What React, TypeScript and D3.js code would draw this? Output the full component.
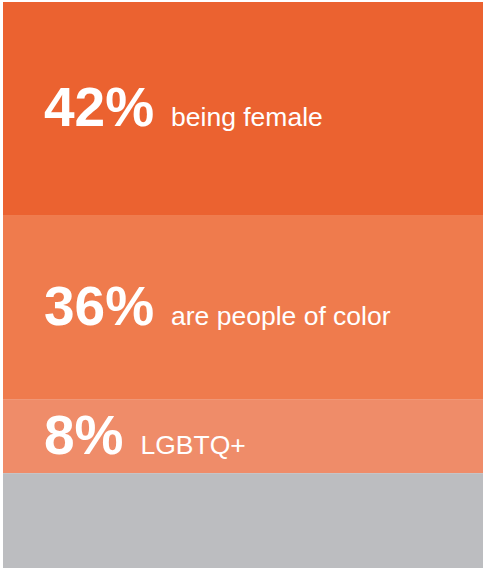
import React from "react";
import * as d3 from "d3";

// Categories and values
const percentLabels = ["42%", "36%", "8%", ""];
const captions = ["being female", "are people of color", "LGBTQ+", ""];
const percentValues = [42, 36, 8, 0];
// Relative band heights as drawn in the reference (in percent-scale units)
const bandUnits = [42, 36.3, 14.6, 18.7];
const bandColors = ["#EB6230", "#EF7B4D", "#EF8C69", "#BCBDC0"];

const W = 483;
const H = 568;
const margin = { top: 2, left: 3, right: 0, bottom: 0 };

export default function App() {
  const total = d3.sum(bandUnits);
  const y = d3
    .scaleLinear()
    .domain([0, total])
    .range([margin.top, H - margin.bottom]);
  const starts = d3.cumsum([0, ...bandUnits]);
  const bands = bandUnits.map((u, i) => ({
    y0: y(starts[i]),
    y1: y(starts[i] + u),
    color: bandColors[i],
    label: percentLabels[i],
    caption: captions[i],
    value: percentValues[i],
  }));
  const bigSize = 55;
  const smallSize = 26.5;
  const font = "'Liberation Sans', Arial, Helvetica, sans-serif";
  const charW: Record<string, number> = { "%": 0.889 };
  const bigWidth = (s: string) =>
    s.split("").reduce((a, c) => a + (charW[c] ?? 0.556), 0) * bigSize;

  return (
    <svg
      width={W}
      height={H}
      style={{ position: "absolute", left: 0, top: 0, display: "block" }}
    >
      <rect x={0} y={0} width={W} height={H} fill="#ffffff" />
      {bands.map((b, i) => {
        const cy = (b.y0 + b.y1) / 2;
        const base = cy + 0.32 * bigSize;
        const x0 = 44;
        return (
          <g key={i}>
            <rect
              x={margin.left}
              y={b.y0}
              width={W - margin.left - margin.right}
              height={b.y1 - b.y0}
              fill={b.color}
            />
            {b.label && (
              <>
                <text
                  x={x0}
                  y={base}
                  fill="#ffffff"
                  fontFamily={font}
                  fontWeight="bold"
                  fontSize={bigSize}
                >
                  {b.label}
                </text>
                <text
                  x={x0 + bigWidth(b.label) + 17}
                  y={base}
                  fill="#ffffff"
                  fontFamily={font}
                  fontSize={smallSize}
                >
                  {b.caption}
                </text>
              </>
            )}
          </g>
        );
      })}
    </svg>
  );
}
